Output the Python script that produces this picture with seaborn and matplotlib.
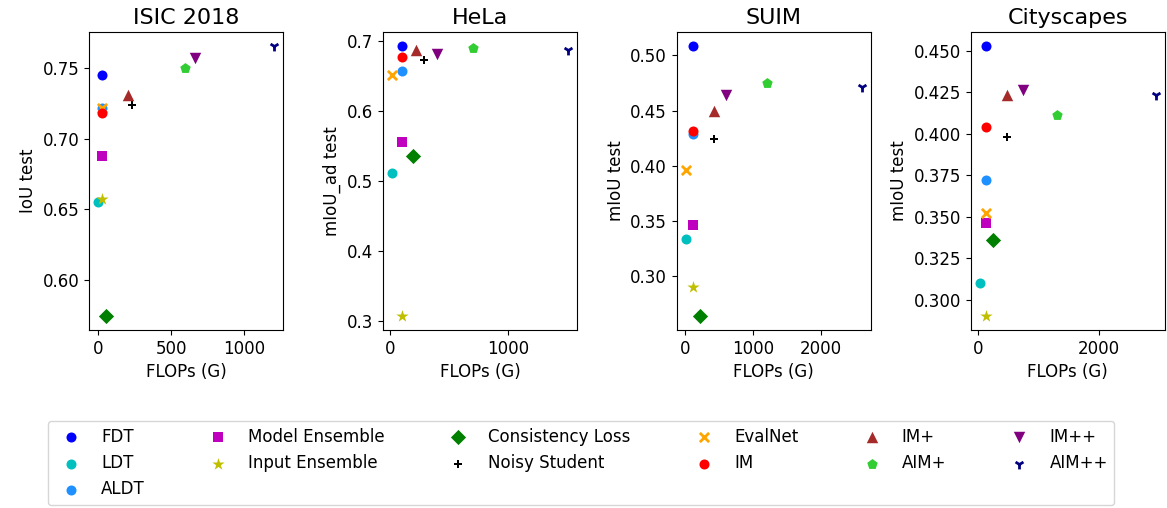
import matplotlib
matplotlib.use("Agg")
import matplotlib.pyplot as plt
import seaborn as sns
import numpy as np

methods = ["FDT", "LDT", "ALDT", "Model Ensemble", "Input Ensemble",
           "Consistency Loss", "Noisy Student", "EvalNet", "IM", "IM+",
           "AIM+", "IM++", "AIM++"]

datasets = ["ISIC 2018", "HeLa", "SUIM", "Cityscapes"]
ylabels = ["IoU test", "mIoU_ad test", "mIoU test", "mIoU test"]

isic_flops = [30, 0, 25, 25, 30, 57, 234, 25, 25, 205, 598, 664, 1205]
isic_score = [0.745, 0.655, 0.722, 0.688, 0.657, 0.574, 0.724, 0.722, 0.718,
              0.731, 0.750, 0.757, 0.766]

hela_flops = [102, 12, 102, 99, 99, 190, 290, 15, 102, 216, 702, 398, 1514]
hela_score = [0.693, 0.512, 0.657, 0.555, 0.307, 0.535, 0.673, 0.651, 0.677,
              0.686, 0.689, 0.681, 0.686]

suim_flops = [117, 10, 117, 112, 112, 220, 425, 10, 117, 425, 1203, 606, 2597]
suim_score = [0.509, 0.333, 0.429, 0.346, 0.290, 0.263, 0.424, 0.396, 0.431,
              0.450, 0.475, 0.464, 0.471]

city_flops = [122, 17, 122, 122, 122, 244, 467, 122, 122, 467, 1300, 733, 2944]
city_score = [0.453, 0.310, 0.372, 0.346, 0.290, 0.336, 0.398, 0.3525, 0.404,
              0.423, 0.411, 0.4265, 0.423]

all_flops = [isic_flops, hela_flops, suim_flops, city_flops]
all_scores = [isic_score, hela_score, suim_score, city_score]

markers = ["o", "o", "o", "s", "*", "D", "P", "x", "o", "^", "p", "v", "1"]
colors = ["blue", "c", "dodgerblue", "m", "y", "green", "black", "orange",
          "red", "brown", "limegreen", "purple", "navy"]
marker_area = {"*": 85, "P": 40, "D": 60, "1": 50, "x": 44,
               "^": 68, "v": 68, "p": 62}

plt.rcParams["font.family"] = ["DejaVu Sans"]
plt.rcParams["font.size"] = 12

fig, axes = plt.subplots(1, 4, figsize=(11.67, 5.08), dpi=100)
fig.subplots_adjust(left=0.0763, right=0.998, top=0.937, bottom=0.3504,
                    wspace=0.515)

for ax, name, ylab, fl, sc in zip(axes, datasets, ylabels, all_flops, all_scores):
    for i, m in enumerate(methods):
        if markers[i] in ("1", "x"):
            kw = dict(linewidth=2.0)
        else:
            kw = dict(linewidth=0)
        sns.scatterplot(x=[fl[i]], y=[sc[i]], marker=markers[i], color=colors[i],
                        s=marker_area.get(markers[i], 52), ax=ax, label=m,
                        legend=False, **kw)
    ax.set_title(name, fontsize=16)
    ax.set_xlabel("FLOPs (G)", fontsize=12)
    ax.set_ylabel(ylab, fontsize=12)
    ax.tick_params(labelsize=12)

handles, labels = axes[0].get_legend_handles_labels()
fig.legend(handles, labels, loc="upper left", ncol=6, mode="expand",
           bbox_to_anchor=(0.041, 0.0, 0.914, 0.171), fontsize=12,
           borderaxespad=0.0)

fig.savefig("out.png", dpi=100)
